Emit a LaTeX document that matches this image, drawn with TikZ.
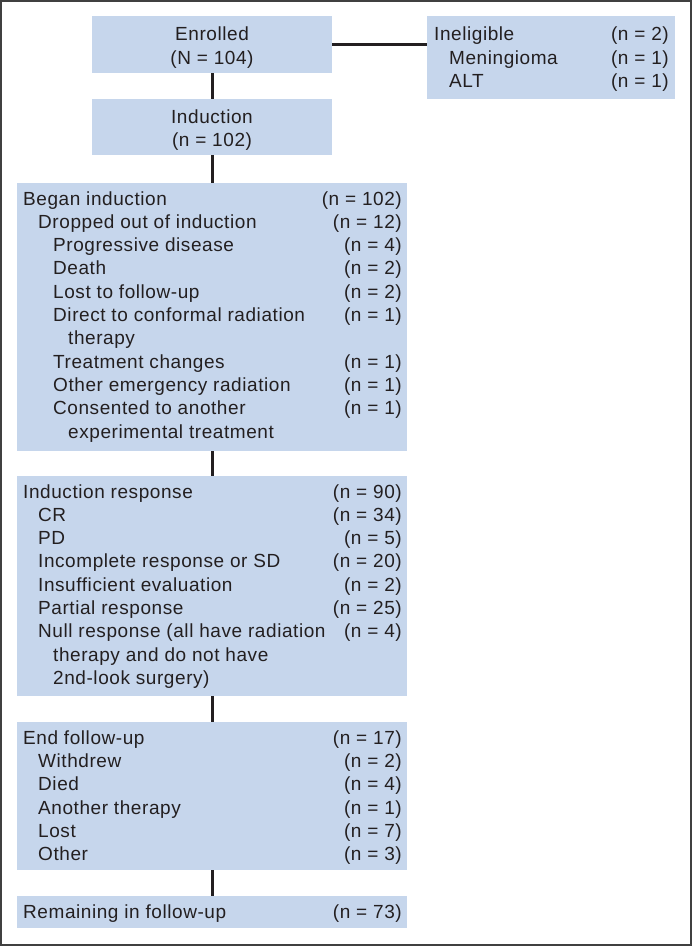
\documentclass[tikz,border=0pt]{standalone}
\usepackage{fontspec}
\newfontfamily\flowfont[LetterSpace=3]{Liberation Sans}
\usetikzlibrary{calc}

\definecolor{boxblue}{RGB}{198,214,236}
\definecolor{txtblack}{RGB}{35,31,32}
\definecolor{framegray}{RGB}{64,64,64}

\tikzset{
  box/.style={fill=boxblue, draw=none, anchor=north west, inner sep=0pt},
  link/.style={line width=2.6pt, draw=txtblack},
  lbl/.style={font=\flowfont\fontsize{19}{23}\selectfont, text=txtblack, inner sep=0pt, anchor=base west},
  cnt/.style={lbl, anchor=base east},
  ctr/.style={lbl, anchor=base},
}

\begin{document}
\begin{tikzpicture}[x=1pt, y=-1pt]

  \useasboundingbox (0,0) rectangle (692,946);
  \draw[framegray, line width=2pt] (1,1) rectangle (691,945);

  % top boxes
  \node[box, minimum width=240pt, minimum height=57pt] (enrolled) at (92,16) {};
  \node[box, minimum width=248pt, minimum height=83pt] (inelig) at (427,16) {};
  \node[box, minimum width=240pt, minimum height=56pt] (induction) at (92,99) {};

  % list boxes
  \node[box, minimum width=390pt, minimum height=268pt] (began) at (17,183) {};
  \node[box, minimum width=390pt, minimum height=220pt] (response) at (17,476) {};
  \node[box, minimum width=390pt, minimum height=148pt] (endfu) at (17,722) {};
  \node[box, minimum width=390pt, minimum height=32pt] (remain) at (17,896) {};

  % connectors
  \draw[link] (enrolled.east) -- (enrolled.east -| inelig.west);
  \draw[link] (enrolled.south) -- (induction.north);
  \draw[link] (induction.south) -- (began.north);
  \draw[link] (began.south) -- (response.north);
  \draw[link] (response.south) -- (endfu.north);
  \draw[link] (endfu.south) -- (remain.north);

  % texts
  \node[ctr] (enrolledA) at (212,40.7) {Enrolled};
  \node[ctr] (enrolledB) at (212,64) {(N = 104)};
  \node[ctr] (inductionA) at (212,123.3) {Induction};
  \node[ctr] (inductionB) at (212,146.7) {(n = 102)};

  \foreach \lev/\txt/\num [count=\i from 0] in {
      0/Ineligible/(n = 2),
      1/Meningioma/(n = 1),
      1/ALT/(n = 1)} {
    \node[lbl] (ie\i) at ({434+15*\lev},{40.7+23.33*\i}) {\txt};
    \node[cnt] (ien\i) at (669,{40.7+23.33*\i}) {\num};
  }

  \foreach \lev/\txt/\num [count=\i from 0] in {
      0/Began induction/(n = 102),
      1/Dropped out of induction/(n = 12),
      2/Progressive disease/(n = 4),
      2/Death/(n = 2),
      2/Lost to follow-up/(n = 2),
      2/Direct to conformal radiation/(n = 1),
      3/therapy/,
      2/Treatment changes/(n = 1),
      2/Other emergency radiation/(n = 1),
      2/Consented to another/(n = 1),
      3/experimental treatment/} {
    \node[lbl] (bg\i) at ({23+15*\lev},{205+23.33*\i}) {\txt};
    \node[cnt] (bgn\i) at (402,{205+23.33*\i}) {\num};
  }

  \foreach \lev/\txt/\num [count=\i from 0] in {
      0/Induction response/(n = 90),
      1/CR/(n = 34),
      1/PD/(n = 5),
      1/Incomplete response or SD/(n = 20),
      1/Insufficient evaluation/(n = 2),
      1/Partial response/(n = 25),
      1/Null response (all have radiation/(n = 4),
      2/therapy and do not have/,
      2/2nd-look surgery)/} {
    \node[lbl] (rs\i) at ({23+15*\lev},{498+23.33*\i}) {\txt};
    \node[cnt] (rsn\i) at (402,{498+23.33*\i}) {\num};
  }

  \foreach \lev/\txt/\num [count=\i from 0] in {
      0/End follow-up/(n = 17),
      1/Withdrew/(n = 2),
      1/Died/(n = 4),
      1/Another therapy/(n = 1),
      1/Lost/(n = 7),
      1/Other/(n = 3)} {
    \node[lbl] (ef\i) at ({23+15*\lev},{744+23.33*\i}) {\txt};
    \node[cnt] (efn\i) at (402,{744+23.33*\i}) {\num};
  }

  \node[lbl] (rm0) at (23,918) {Remaining in follow-up};
  \node[cnt] (rmn0) at (402,918) {(n = 73)};

\end{tikzpicture}
\end{document}
